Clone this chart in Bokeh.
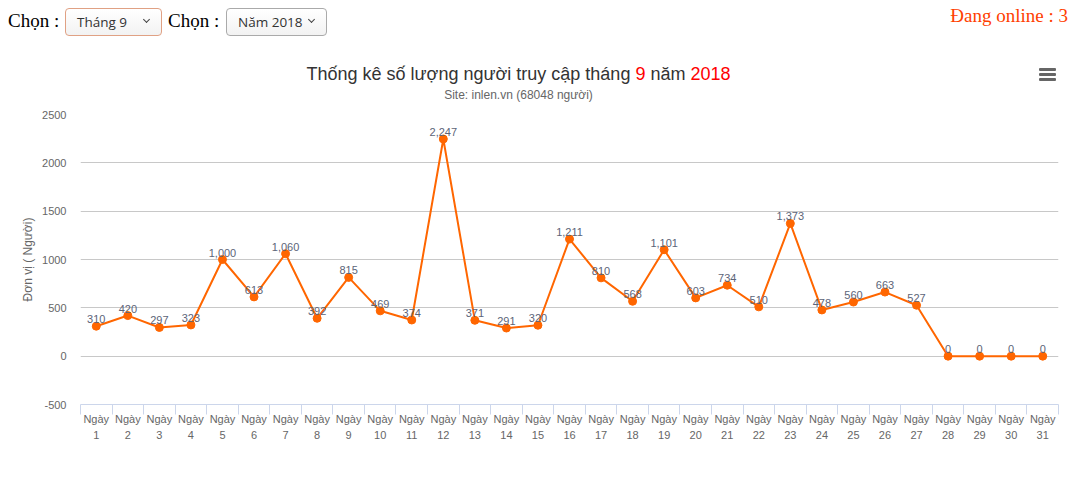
from bokeh.plotting import figure
from bokeh.models import ColumnDataSource, Range1d, FixedTicker, Div
from bokeh.layouts import column
from bokeh.core.properties import value
from bokeh.embed import file_html
from bokeh.resources import INLINE

# ---- data ----
days = list(range(1, 32))
visits = [310, 420, 297, 323, 1000, 613, 1060, 392, 815, 469, 374, 2247, 371,
          291, 320, 1211, 810, 568, 1101, 603, 734, 510, 1373, 478, 560, 663,
          527, 0, 0, 0, 0]
day_labels = [f"Ngày\n{d}" for d in days]
y_ticks = [-500, 0, 500, 1000, 1500, 2000, 2500]
y_tick_labels = ["-500", "0", "500", "1000", "1500", "2000", "2500"]
title_parts = ["Thống kê số lượng người truy cập tháng", "9", "năm", "2018"]
subtitle = "Site: inlen.vn (68048 người)"
y_title = "Đơn vị ( Người)"
month_choice = "Tháng 9"
year_choice = "Năm 2018"
choose_text = "Chọn :"
online_text = "Đang online : 3"

W, H = 1075, 481
HEAD = 110

# ---- header (page controls + chart title) as HTML ----
def abs_span(left, top, css, inner):
    return f'<div style="position:absolute;left:{left}px;top:{top}px;{css}">{inner}</div>'

def select_box(left, width, border, text):
    box = abs_span(left, 8, f"width:{width}px;height:28px;box-sizing:border-box;"
                   f"border:1px solid {border};border-radius:4px;"
                   "background:linear-gradient(#ffffff,#f2f2f2);"
                   "font-family:'Open Sans';font-size:13.5px;line-height:26px;"
                   "padding-left:11px;color:#333;white-space:nowrap;", text)
    chev = abs_span(left + width - 18, 17, "width:5px;height:5px;border-right:1.5px solid #444;"
                    "border-bottom:1.5px solid #444;transform:rotate(45deg);", "")
    return box + chev

serif = "font-family:'Liberation Serif';font-size:19px;line-height:1;white-space:nowrap;"
parts = [
    abs_span(8, 11, serif + "color:#000;", choose_text),
    select_box(65, 97, "#e0a184", month_choice),
    abs_span(168, 11, serif + "color:#000;", choose_text),
    select_box(226, 101, "#aaaaaa", year_choice),
    f'<div style="position:absolute;right:7px;top:6px;{serif}color:#ff4000;">{online_text}</div>',
    abs_span(0, 65, "width:1037px;text-align:center;font-family:'Liberation Sans';font-size:18px;"
             "line-height:1;color:#333;white-space:nowrap;",
             f'{title_parts[0]} <span style="color:#ff0000">{title_parts[1]}</span> '
             f'{title_parts[2]} <span style="color:#ff0000">{title_parts[3]}</span>'),
    abs_span(0, 89, "width:1037px;text-align:center;font-family:'Liberation Sans';font-size:12px;"
             "line-height:1;color:#666;white-space:nowrap;", subtitle),
]
for top in (68, 73, 78):
    parts.append(abs_span(1039, top, "width:17px;height:3px;background:#666;border-radius:1px;", ""))

header = Div(text=f'<div style="position:relative;width:{W}px;height:{HEAD}px;">' + "".join(parts) + "</div>",
             width=W, height=HEAD, margin=0)

# ---- chart ----
FL, FR, FT, FB = 80, 1058, 114, 404   # frame edges on the page

p = figure(width=W, height=H - HEAD, output_backend="svg", toolbar_location=None,
           x_range=Range1d(0.5, 31.5), y_range=Range1d(-500, 2500),
           min_border_left=FL, min_border_right=W - FR,
           min_border_top=FT - HEAD, min_border_bottom=H - FB, margin=0)
p.outline_line_color = None
p.background_fill_color = "white"
p.border_fill_color = "white"

src = ColumnDataSource(dict(x=days, y=visits, lab=[f"{v:,}" for v in visits]))
p.line("x", "y", source=src, line_color="#ff6600", line_width=2)
p.scatter("x", "y", source=src, size=8, fill_color="#ff6600", line_color="#ff6600")
p.text("x", "y", text="lab", source=src, text_align="center", text_baseline="bottom",
       y_offset=-3, text_font_size="11px", text_color="#5c6478",
       text_font=value("Liberation Sans"))

# x axis
p.xaxis.ticker = FixedTicker(ticks=days, minor_ticks=[d - 0.5 for d in days] + [days[-1] + 0.5])
p.xaxis.major_label_overrides = {d: lab for d, lab in zip(days, day_labels)}
p.xaxis.axis_line_color = "#ccd6eb"
p.xaxis.major_tick_line_color = None
p.xaxis.major_tick_out = 0
p.xaxis.minor_tick_line_color = "#ccd6eb"
p.xaxis.minor_tick_out = 10
p.xaxis.minor_tick_in = 0
p.xaxis.major_label_standoff = -2
p.xaxis.major_label_text_font_size = "11px"
p.xaxis.major_label_text_color = "#666666"
p.xaxis.major_label_text_font = "Liberation Sans"
p.xaxis.major_label_text_line_height = 1.4

# y axis
p.yaxis.ticker = FixedTicker(ticks=y_ticks)
p.yaxis.major_label_overrides = {t: s for t, s in zip(y_ticks, y_tick_labels)}
p.yaxis.axis_line_color = None
p.yaxis.major_tick_line_color = None
p.yaxis.minor_tick_line_color = None
p.yaxis.major_tick_out = 0
p.yaxis.major_label_standoff = 14
p.yaxis.major_label_text_font_size = "11px"
p.yaxis.major_label_text_color = "#666666"
p.yaxis.major_label_text_font = "Liberation Sans"
p.yaxis.axis_label = y_title
p.yaxis.axis_label_text_font_size = "12px"
p.yaxis.axis_label_text_color = "#666666"
p.yaxis.axis_label_text_font = "Liberation Sans"
p.yaxis.axis_label_text_font_style = "normal"
p.yaxis.axis_label_standoff = 4

p.xgrid.grid_line_color = None
p.ygrid.grid_line_color = "#c8c8c8"
p.ygrid.grid_line_width = 1

layout = column(header, p, spacing=0, margin=0)
open("out.html", "w").write(file_html(layout, INLINE))
